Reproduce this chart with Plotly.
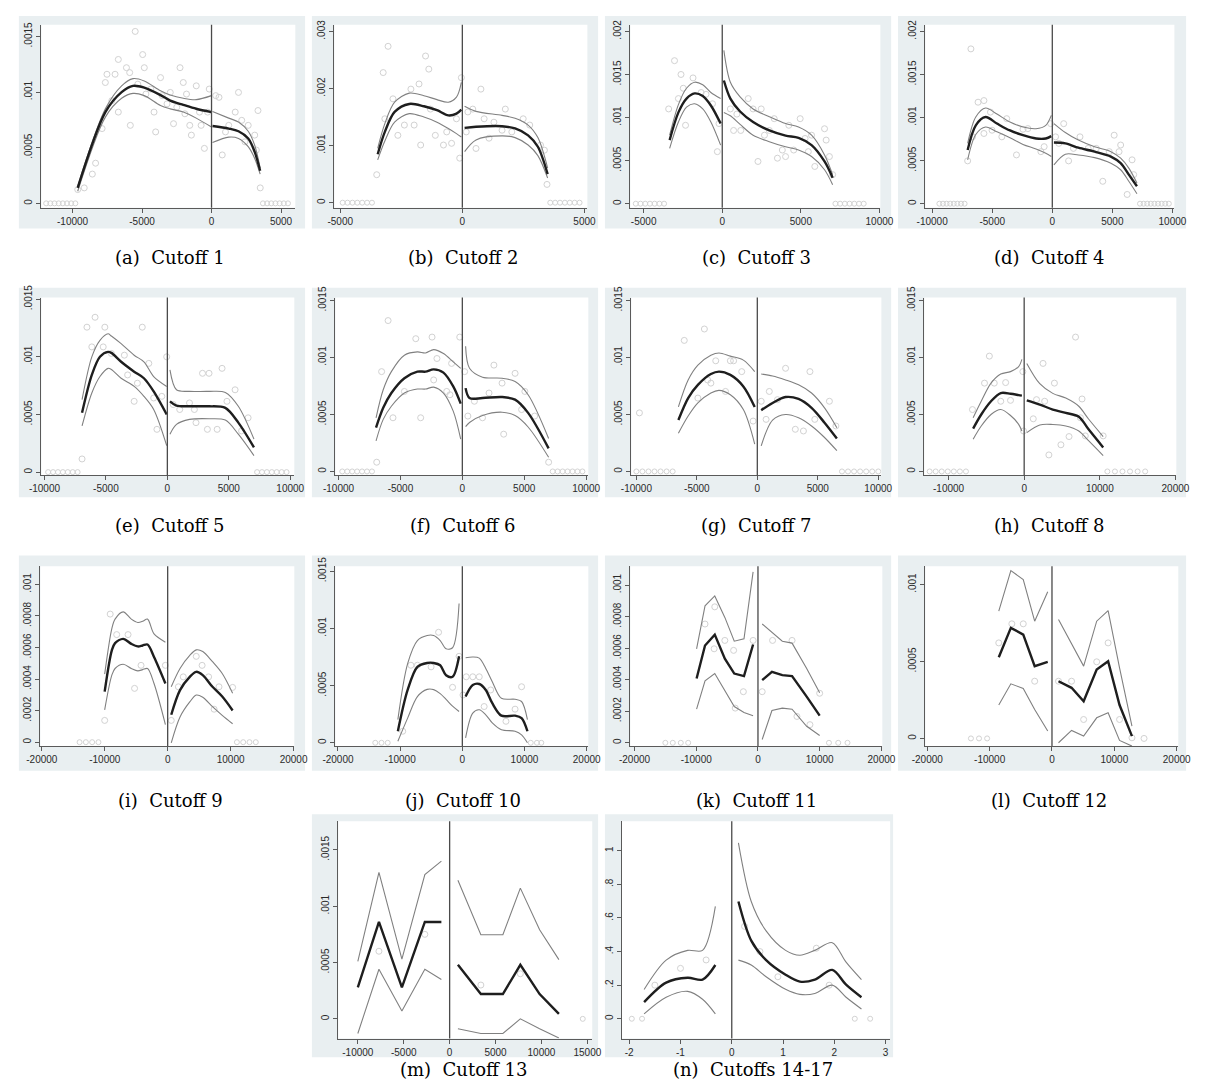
import plotly.graph_objects as go

W, H = 1205, 1086

# ---------------------------------------------------------------------------
# Binned density estimates and local-polynomial fits around each cutoff.
# y values are given in units of 1e-4 (panel n: plain units).
# *_SX/*_SY : bin means, *_ZL/*_ZR : empty bins (density 0)
# *_XL/*_FL/*_HL/*_LL : left of cutoff  (x, fit, upper CI, lower CI)
# *_XR/*_FR/*_HR/*_LR : right of cutoff
# ---------------------------------------------------------------------------

# (a) Cutoff 1
A_SX = [-9628, -9161, -8577, -8343, -7876, -7642, -7525, -7175, -6941, -6707, -6707, -6123, -5889, -5843,
        -5492, -5305, -4954, -4838, -4721, -4370, -4137, -4020, -3669, -3552, -3202, -2968, -2734, -2501,
        -2267, -2033, -1916, -1800, -1566, -1449, -1098, -865, -748, -514, -280, -164, 304, 538, 771, 1005,
        1239, 1706, 1940, 2173, 2407, 2641, 3108, 3342, 3225, 3506]
A_SY = [1.24, 1.39, 2.63, 3.61, 6.72, 10.86, 11.6, 9.23, 11.6, 8.2, 12.93, 12.19, 11.75, 7.01, 15.45, 10.71,
        13.37, 12.19, 9.82, 10.27, 8.2, 6.42, 11.3, 9.68, 8.94, 9.97, 7.16, 8.64, 12.19, 10.86, 8.05, 9.82,
        7.01, 6.13, 10.56, 8.2, 7.01, 4.94, 8.2, 10.27, 9.68, 9.53, 4.35, 6.42, 7.01, 8.2, 9.97, 7.46, 5.53,
        7.01, 6.13, 8.34, 4.79, 1.39]
A_ZL = [-11900, -11600, -11300, -11000, -10700, -10400, -10100, -9800]
A_ZR = [3700, 4000, 4300, 4600, 4900, 5200, 5500]
A_XL = [-9630, -7640, -6470, -5650, -4840, -3670, -2970, -2030, -1100, 0]
A_FL = [1.39, 8.2, 10.0, 10.56, 10.4, 9.73, 9.23, 8.85, 8.5, 8.2]
A_HL = [1.54, 8.49, 10.56, 11.21, 11.0, 10.12, 9.73, 9.44, 9.32, 9.68]
A_LL = [1.09, 7.75, 9.44, 9.88, 9.68, 8.79, 8.49, 8.2, 7.66, 6.86]
A_XR = [70, 1240, 1940, 2640, 3100, 3500]
A_FR = [6.95, 6.72, 6.48, 5.83, 4.65, 2.93]
A_HR = [8.26, 7.66, 7.31, 6.48, 5.24, 3.17]
A_LR = [5.47, 5.95, 5.83, 5.09, 4.05, 2.63]

# (b) Cutoff 2
B_SX = [-3506, -3240, -3173, -3040, -2840, -2640, -2373, -2106, -1973, -1773, -1706, -1506, -1373, -1306,
        -1106, -773, -640, -440, -240, -107, -40, 160, 227, 427, 560, 760, 893, 1093, 1293, 1626, 1760, 2026,
        2493, 2760, 3200, 3360, 3466]
B_SY = [4.9, 22.8, 14.7, 27.4, 18.2, 11.8, 13.6, 19.9, 13.6, 20.8, 10.1, 25.7, 23.4, 16.4, 11.8, 10.1, 12.4,
        10.4, 14.7, 7.8, 21.9, 12.4, 15.9, 16.4, 9.5, 19.9, 14.7, 11.3, 14.1, 12.7, 16.4, 12.4, 14.7, 13.6,
        10.1, 9.2, 3.2]
B_ZL = [-4900, -4700, -4500, -4300, -4100, -3900, -3700]
B_ZR = [3600, 3800, 4000, 4200, 4400, 4600, 4800]
B_XL = [-3466, -3173, -2773, -2173, -1573, -1040, -573, -240, -40]
B_FL = [8.48, 12.4, 15.9, 17.3, 16.9, 16.2, 15.3, 15.6, 16.3]
B_HL = [9.52, 13.85, 17.6, 19.2, 18.75, 18.06, 17.6, 18.5, 21.1]
B_LL = [7.5, 10.8, 14.1, 15.6, 15.0, 14.1, 13.0, 12.1, 11.5]
B_XR = [93, 560, 1626, 2160, 2693, 3093, 3493]
B_FR = [13.1, 13.3, 13.4, 13.0, 11.8, 9.8, 5.0]
B_HR = [16.9, 16.0, 15.3, 14.8, 13.6, 11.4, 6.06]
B_LR = [8.94, 11.0, 11.7, 11.4, 10.1, 8.25, 4.33]

# (c) Cutoff 3
C_SX = [-3409, -3037, -2624, -2479, -2789, -2335, -1859, -1343, -1033, -620, -310, -207, 517, 723, 930, 1178,
        1653, 1963, 2273, 2479, 2686, 2996, 3306, 3512, 3822, 4029, 4236, 4545, 4958, 5268, 5475, 5682, 5888,
        6508, 6611, 6818, 7024]
C_SY = [11.0, 16.6, 15.0, 13.4, 12.2, 9.1, 14.6, 12.9, 12.7, 11.6, 6.04, 9.3, 11.0, 8.5, 10.4, 8.5, 12.2, 11.0,
        4.9, 11.0, 7.95, 8.5, 9.87, 5.28, 6.23, 5.47, 9.1, 6.23, 9.87, 7.57, 6.04, 7.95, 4.32, 8.7, 7.38, 5.47,
        3.37]
C_ZL = [-5500, -5200, -4900, -4600, -4300, -4000, -3700]
C_ZR = [7200, 7500, 7800, 8100, 8400, 8700, 9000]
C_XL = [-3347, -2789, -2273, -1756, -1240, -723, -103]
C_FL = [7.38, 10.6, 12.2, 12.8, 12.5, 11.4, 9.3]
C_HL = [7.95, 11.5, 13.4, 14.1, 13.8, 12.9, 12.2]
C_LL = [6.42, 9.48, 11.2, 11.6, 11.0, 9.48, 6.8]
C_XR = [103, 517, 1136, 1963, 2996, 4029, 4855, 5682, 6508, 7024]
C_FR = [14.3, 12.2, 10.7, 9.48, 8.5, 7.9, 7.65, 6.8, 4.9, 3.0]
C_HR = [17.8, 14.1, 12.4, 11.0, 10.1, 9.3, 8.9, 7.95, 5.66, 3.37]
C_LR = [10.6, 10.2, 9.2, 7.95, 7.2, 6.6, 6.23, 5.47, 3.94, 2.2]

# (d) Cutoff 4
D_SX = [-7046, -6775, -6179, -5691, -5149, -5014, -5691, -4201, -3794, -2981, -2439, -2033, -949, -678, -136,
        271, 542, 949, 1355, 1762, 2304, 2981, 3659, 4201, 4743, 5149, 5556, 5691, 6233, 6640, 6775, -6640]
D_SY = [4.97, 17.97, 11.78, 11.97, 10.63, 8.53, 8.15, 7.76, 9.87, 5.66, 8.64, 8.72, 6.04, 6.62, 9.29, 7.76,
        7.0, 9.29, 4.97, 6.42, 7.76, 6.42, 6.42, 2.6, 6.04, 7.95, 6.04, 6.81, 1.07, 5.09, 3.37, 7.76]
D_ZL = [-9400, -9100, -8800, -8500, -8200, -7900, -7600, -7300]
D_ZR = [7300, 7600, 7900, 8200, 8500, 8800, 9100, 9400, 9700]
D_XL = [-7046, -6369, -5556, -4607, -3523, -2439, -1355, -542, -81]
D_FL = [6.23, 9.1, 10.06, 9.3, 8.5, 7.95, 7.57, 7.57, 7.84]
D_HL = [7.0, 10.06, 11.1, 10.4, 9.48, 8.9, 8.7, 9.1, 10.25]
D_LL = [5.09, 8.03, 8.9, 8.34, 7.65, 6.88, 6.35, 5.85, 5.47]
D_XR = [135, 1084, 2168, 3523, 4878, 5691, 6369, 7046]
D_FR = [7.1, 7.0, 6.5, 6.04, 5.47, 4.7, 3.37, 2.03]
D_HR = [9.3, 8.26, 7.38, 6.6, 6.04, 5.28, 4.13, 2.4]
D_LR = [4.51, 5.74, 5.66, 5.35, 4.7, 3.94, 2.6, 1.15]

# (e) Cutoff 5
E_SX = [-6940, -6543, -5881, -6146, -5219, -5086, -4556, -3497, -3232, -2702, -2437, -2040, -1510, -1113, -848,
        -450, -53, 477, 1006, 1801, 2199, 2331, 2861, 3391, 3258, 4053, 4450, 4848, 5510, 6040, 6570]
E_SY = [1.14, 12.57, 13.43, 10.86, 10.86, 12.57, 10.29, 10.14, 8.43, 6.14, 7.71, 12.57, 9.43, 6.43, 3.71, 6.57,
        10.0, 5.86, 5.43, 6.0, 5.43, 4.29, 8.57, 8.57, 3.71, 3.71, 9.0, 6.14, 7.14, 3.57, 4.71]
E_ZL = [-9700, -9300, -8900, -8500, -8100, -7700, -7300]
E_ZR = [7300, 7700, 8100, 8500, 8900, 9300, 9700]
E_XL = [-6940, -6146, -5483, -4821, -4556, -3762, -2702, -1907, -1113, -53]
E_FL = [5.14, 8.43, 10.0, 10.43, 10.34, 9.57, 8.71, 8.14, 7.0, 5.0]
E_HL = [6.29, 10.0, 11.43, 12.0, 11.8, 11.14, 10.14, 9.57, 8.29, 7.43]
E_LL = [4.0, 6.86, 8.29, 9.0, 8.9, 8.14, 7.43, 6.57, 5.43, 2.29]
E_XR = [212, 742, 1801, 3391, 4715, 5775, 7046]
E_FR = [6.14, 5.77, 5.71, 5.71, 5.57, 4.29, 2.14]
E_HR = [8.86, 7.14, 7.0, 7.0, 6.91, 5.71, 2.86]
E_LR = [3.29, 4.14, 4.57, 4.63, 4.51, 3.29, 1.43]

# (f) Cutoff 6
F_SX = [-6917, -6522, -5996, -5602, -3761, -3366, -2446, -2051, -1262, -999, -868, -210, 184, 447, 973, 1631,
        2156, 2551, 3209, 3340, 4261, 4787, 5050, 5839, 6970, -2314, -4681]
F_SY = [0.81, 8.76, 13.24, 4.71, 11.65, 4.71, 11.79, 9.91, 7.02, 6.73, 9.48, 11.79, 8.76, 4.86, 6.16, 4.71,
        6.88, 9.33, 7.75, 3.27, 8.61, 5.43, 7.02, 4.86, 0.81, 8.03, 7.02]
F_ZL = [-9700, -9300, -8900, -8500, -8100, -7700, -7300]
F_ZR = [7300, 7700, 8100, 8500, 8900, 9300, 9700]
F_XL = [-6970, -6391, -5733, -4681, -3629, -2972, -2314, -1525, -736, -131]
F_FL = [3.84, 5.58, 6.88, 8.18, 8.76, 8.76, 8.96, 8.67, 7.46, 5.95]
F_HL = [4.71, 7.17, 8.76, 10.2, 10.49, 10.4, 10.69, 10.35, 9.62, 9.05]
F_LL = [2.69, 4.57, 5.72, 6.88, 7.23, 7.23, 7.4, 6.88, 5.29, 2.83]
F_XR = [263, 579, 1631, 3209, 4261, 5313, 6970]
F_FR = [7.31, 6.44, 6.44, 6.53, 6.3, 5.14, 2.02]
F_HR = [10.98, 9.05, 8.27, 8.18, 7.89, 6.73, 2.89]
F_LR = [3.93, 4.3, 4.91, 5.2, 4.9, 3.9, 1.24]

# (g) Cutoff 7
G_SX = [-6041, -4377, -4109, -3437, -3840, -2631, -2229, -1960, -1289, -349, 322, 725, 993, 1665, 2336, 3142,
        3813, 4350, 4753, 5961, 6498, -9747, -4914]
G_SY = [11.5, 12.5, 8.03, 9.71, 7.75, 7.02, 9.71, 9.71, 8.76, 4.42, 6.16, 4.57, 7.02, 6.3, 9.05, 3.7, 3.55,
        8.76, 4.57, 6.16, 3.99, 5.14, 6.44]
G_ZL = [-10000, -9500, -9000, -8500, -8000, -7500, -7000]
G_ZR = [7000, 7500, 8000, 8500, 9000, 9500, 10000]
G_XL = [-6525, -5719, -4914, -3840, -3168, -2229, -1155, -215]
G_FL = [4.51, 6.44, 7.6, 8.55, 8.76, 8.47, 7.46, 5.66]
G_HL = [5.66, 8.03, 9.33, 10.2, 10.4, 10.12, 9.77, 8.76]
G_LL = [3.35, 4.86, 6.01, 6.88, 7.11, 6.73, 5.43, 2.4]
G_XR = [322, 1262, 2336, 3410, 4484, 5558, 6578]
G_FR = [5.38, 6.01, 6.53, 6.36, 5.58, 4.28, 2.89]
G_HR = [8.55, 8.38, 8.03, 7.6, 6.88, 5.58, 3.84]
G_LR = [2.25, 4.5, 5.0, 4.71, 3.99, 2.98, 1.82]

# (h) Cutoff 8
H_SX = [-6837, -5246, -4601, -3956, -3096, -2451, -1806, -172, -86, 1204, 1634, 2494, 2709, 3999, 3268, 4859,
        5934, 6794, 7439, 7654, 8084, 10449]
H_SY = [5.43, 7.75, 10.12, 7.75, 6.16, 7.8, 6.24, 8.76, 3.55, 4.62, 6.3, 9.48, 6.16, 7.75, 1.45, 2.34, 3.06,
        11.79, 4.71, 6.36, 3.12, 3.12]
H_ZL = [-12500, -11700, -10900, -10100, -9300, -8500, -7700]
H_ZR = [11000, 12000, 13000, 14000, 15000, 16000]
H_XL = [-6751, -5676, -4386, -3096, -1806, -731, -301]
H_FL = [3.76, 5.0, 6.16, 6.88, 6.82, 6.7, 6.65]
H_HL = [4.71, 6.16, 7.75, 8.55, 8.76, 9.19, 9.83]
H_LL = [2.83, 3.99, 5.0, 5.43, 4.91, 4.13, 3.55]
H_XR = [344, 2064, 3784, 5504, 7224, 8514, 10449]
H_FR = [6.24, 5.87, 5.43, 5.14, 4.8, 3.7, 2.11]
H_HR = [9.48, 7.7, 6.85, 6.44, 5.72, 4.6, 3.06]
H_LR = [3.41, 4.08, 4.12, 3.99, 3.55, 2.7, 1.39]

# (i) Cutoff 9
I_SX = [-10010, -9133, -8101, -6295, -5263, -4231, -361, 568, 1703, 2477, 4541, 5470, 6502, 8153, 10320, 7379]
I_SY = [1.38, 8.12, 6.82, 6.82, 3.41, 4.87, 4.87, 1.38, 3.51, 4.14, 5.44, 4.87, 4.14, 3.51, 3.47, 2.09]
I_ZL = [-14000, -13000, -12000, -11000]
I_ZR = [11000, 12000, 13000, 14000]
I_XL = [-10010, -8875, -8359, -7069, -5779, -4747, -3973, -3199, -2167, -361]
I_FL = [3.2, 5.82, 6.28, 6.55, 6.23, 6.07, 6.13, 6.19, 5.4, 3.72]
I_HL = [4.31, 7.2, 7.8, 8.26, 7.8, 7.59, 7.66, 7.8, 6.86, 6.34]
I_LL = [2.05, 4.25, 4.67, 4.94, 4.67, 4.52, 4.6, 4.67, 3.72, 1.11]
I_XR = [568, 1961, 3509, 4541, 5573, 7121, 8669, 10320]
I_FR = [1.74, 3.3, 4.14, 4.46, 4.25, 3.51, 2.89, 2.01]
I_HR = [3.51, 4.67, 5.5, 5.85, 5.75, 5.1, 4.35, 3.1]
I_LR = [-0.04, 1.6, 2.55, 2.99, 2.85, 2.25, 1.7, 1.17]

# (j) Cutoff 10
J_SX = [-9582, -8272, -7226, -5027, -3822, -1571, -524, 628, 1676, 2723, 3508, 4555, 7016, 8482, 9529, 105]
J_SY = [1.01, 6.78, 6.78, 6.64, 9.66, 4.85, 7.56, 5.77, 5.77, 5.77, 3.17, 4.62, 1.88, 2.94, 4.9, 4.18]
J_ZL = [-14000, -13000, -12000]
J_ZR = [11000, 12000, 12700]
J_XL = [-10367, -8796, -7226, -5655, -4608, -3560, -2618, -1571, -524]
J_FL = [1.01, 4.62, 6.64, 6.98, 6.98, 6.78, 5.91, 5.77, 7.56]
J_HL = [2.02, 6.92, 8.94, 9.38, 9.38, 8.94, 8.22, 8.31, 12.17]
J_LL = [0.14, 2.16, 4.04, 4.67, 4.65, 4.3, 3.8, 3.2, 2.74]
J_XR = [524, 1676, 2723, 3770, 4817, 6283, 8482, 9529, 10472]
J_FR = [4.04, 5.05, 5.14, 4.62, 3.46, 2.37, 2.37, 2.16, 1.01]
J_HR = [7.44, 7.5, 7.4, 6.5, 5.34, 3.89, 3.81, 3.61, 2.02]
J_LR = [0.43, 2.6, 2.89, 2.45, 1.75, 1.15, 1.01, 0.7, 0.0]

# (k) Cutoff 11
K_SX = [-8574, -6996, -5365, -3945, -3682, -2367, -789, 684, 2367, 5523, 6312, 8416, 9994, -7101]
K_SY = [7.53, 8.62, 6.49, 5.86, 2.2, 3.24, 6.49, 3.24, 6.49, 6.49, 1.67, 1.15, 3.14, 5.96]
K_ZL = [-15000, -13800, -12500, -11300]
K_ZR = [11500, 13000, 14500]
K_XL = [-9941, -8574, -6996, -5365, -3840, -2262, -789]
K_FL = [4.08, 6.17, 6.86, 5.33, 4.39, 4.23, 6.23]
K_HL = [5.96, 8.68, 9.31, 7.95, 6.44, 6.59, 10.84]
K_LL = [2.13, 3.93, 4.39, 3.35, 2.3, 1.92, 1.72]
K_XR = [684, 2262, 3945, 5523, 7890, 9994]
K_FR = [3.97, 4.5, 4.29, 4.23, 2.93, 1.72]
K_HR = [7.53, 7.01, 6.44, 6.32, 4.71, 3.18]
K_LR = [0.21, 2.05, 2.2, 2.13, 1.05, 0.46]

# (l) Cutoff 12
L_SX = [-8535, -6440, -4608, -2775, 1047, 3142, 5079, 7173, 9006, 10839, 12828, 14765]
L_SY = [6.21, 7.45, 7.45, 3.72, 3.72, 3.72, 1.23, 4.98, 6.21, 1.23, 0.04, 0.0]
L_ZL = [-13000, -11700, -10400]
L_ZR = []
L_XL = [-8535, -6597, -4608, -2775, -681]
L_FL = [5.28, 7.19, 6.75, 4.7, 4.98]
L_HL = [8.27, 10.91, 10.33, 7.62, 9.53]
L_LL = [2.17, 3.55, 3.25, 1.88, 0.48]
L_XR = [1047, 3142, 5079, 7173, 9006, 10839, 12828]
L_FR = [3.72, 3.29, 2.42, 4.48, 5.02, 2.17, 0.15]
L_HR = [7.73, 6.11, 4.7, 7.62, 8.31, 4.59, 0.8]
L_LR = [-0.28, 0.52, 0.15, 1.34, 1.67, -0.13, -0.5]

# (m) Cutoff 13
M_SX = [-7700, -2700, 3400, 7700]
M_SY = [6.0, 7.5, 3.0, 4.0]
M_ZL = []
M_ZR = [14500]
M_XL = [-10000, -7700, -5200, -2700, -900]
M_FL = [2.8, 8.6, 2.8, 8.6, 8.6]
M_HL = [5.1, 13.0, 5.3, 12.8, 14.0]
M_LL = [-1.3, 4.4, 0.7, 4.4, 3.5]
M_XR = [900, 3400, 5800, 7700, 9800, 11900]
M_FR = [4.8, 2.2, 2.2, 4.8, 2.2, 0.44]
M_HR = [12.3, 7.46, 7.46, 11.6, 7.9, 5.26]
M_LR = [-0.88, -1.3, -1.3, 0.0, -0.88, -1.7]

# (n) Cutoffs 14-17 (normalised running variable)
N_SX = [-1.5, -1.0, -0.5, 0.25, 0.55, 0.9, 1.65, 1.9]
N_SY = [0.2, 0.3, 0.35, 0.55, 0.4, 0.25, 0.42, 0.2]
N_ZL = [-1.95, -1.75]
N_ZR = [2.4, 2.7]
N_XL = [-1.71, -1.28, -0.86, -0.57, -0.32]
N_FL = [0.099, 0.215, 0.244, 0.233, 0.32]
N_HL = [0.174, 0.349, 0.407, 0.407, 0.669]
N_LL = [0.029, 0.128, 0.163, 0.116, 0.029]
N_XR = [0.13, 0.38, 0.67, 1.05, 1.33, 1.62, 1.96, 2.23, 2.53]
N_FR = [0.698, 0.465, 0.349, 0.262, 0.221, 0.233, 0.291, 0.203, 0.128]
N_HR = [1.047, 0.698, 0.523, 0.407, 0.378, 0.407, 0.453, 0.337, 0.233]
N_LR = [0.349, 0.32, 0.25, 0.175, 0.145, 0.15, 0.2, 0.128, 0.058]

# Tick sets
XT_A = [-10000, -5000, 0, 5000]
XT_B = [-5000, 0, 5000]
XT_C = [-5000, 0, 5000, 10000]
XT_10 = [-10000, -5000, 0, 5000, 10000]
XT_H = [-10000, 0, 10000, 20000]
XT_20 = [-20000, -10000, 0, 10000, 20000]
XT_M = [-10000, -5000, 0, 5000, 10000, 15000]
XT_N = [-2, -1, 0, 1, 2, 3]

YT_15 = ([0, 5e-4, 1e-3, 1.5e-3], ["0", ".0005", ".001", ".0015"])
YT_3 = ([0, 1e-3, 2e-3, 3e-3], ["0", ".001", ".002", ".003"])
YT_2 = ([0, 5e-4, 1e-3, 1.5e-3, 2e-3], ["0", ".0005", ".001", ".0015", ".002"])
YT_1 = ([0, 2e-4, 4e-4, 6e-4, 8e-4, 1e-3], ["0", ".0002", ".0004", ".0006", ".0008", ".001"])
YT_L = ([0, 5e-4, 1e-3], ["0", ".0005", ".001"])
YT_N = ([0, 0.2, 0.4, 0.6, 0.8, 1.0], ["0", ".2", ".4", ".6", ".8", "1"])


def series(prefix):
    g = globals()
    return {k: g[f"{prefix}_{k}"] for k in
            ["SX", "SY", "ZL", "ZR", "XL", "FL", "HL", "LL", "XR", "FR", "HR", "LR"]}


# Layout of each panel, in pixels: outer box, plot area, axis ranges, caption centre
PANELS = [
    dict(p="A", cap="(a)  Cutoff 1", box=(5, 3, 298, 218), area=(28, 12, 288, 197),
         xr=(-12246, 6029), yr=(-0.385e-4, 16.04e-4), xt=XT_A, yt=YT_15, cc=(160, 247), shape="spline"),
    dict(p="B", cap="(b)  Cutoff 2", box=(305, 3, 598, 218), area=(328, 12, 587, 197),
         xr=(-5239, 5119), yr=(-0.87e-4, 31.16e-4), xt=XT_B, yt=YT_3, cc=(460, 247), shape="spline"),
    dict(p="C", cap="(c)  Cutoff 3", box=(605, 3, 898, 218), area=(631, 12, 887, 197),
         xr=(-5847, 10061), yr=(-0.46e-4, 20.76e-4), xt=XT_C, yt=YT_2, cc=(760, 247), shape="spline"),
    dict(p="D", cap="(d)  Cutoff 4", box=(905, 3, 1200, 218), area=(933, 12, 1188, 197),
         xr=(-10569, 10163), yr=(-0.46e-4, 20.76e-4), xt=XT_10, yt=YT_2, cc=(1060, 247), shape="spline"),
    dict(p="E", cap="(e)  Cutoff 5", box=(5, 278, 298, 490), area=(28, 288, 287, 468),
         xr=(-10252, 10331), yr=(-0.286e-4, 15.14e-4), xt=XT_10, yt=YT_15, cc=(160, 519), shape="spline"),
    dict(p="F", cap="(f)  Cutoff 6", box=(305, 278, 598, 490), area=(329, 288, 588, 468),
         xr=(-10257, 10178), yr=(-0.347e-4, 15.26e-4), xt=XT_10, yt=YT_15, cc=(460, 519), shape="spline"),
    dict(p="G", cap="(g)  Cutoff 7", box=(605, 278, 898, 490), area=(632, 288, 888, 468),
         xr=(-10418, 10257), yr=(-0.347e-4, 15.26e-4), xt=XT_10, yt=YT_15, cc=(760, 519), shape="spline"),
    dict(p="H", cap="(h)  Cutoff 8", box=(905, 278, 1200, 490), area=(932, 288, 1190, 468),
         xr=(-13201, 20124), yr=(-0.347e-4, 15.26e-4), xt=XT_H, yt=YT_15, cc=(1060, 519), shape="spline"),
    dict(p="I", cap="(i)  Cutoff 9", box=(5, 549, 298, 767), area=(27, 560, 287, 742),
         xr=(-20227, 20124), yr=(-0.25e-4, 11.15e-4), xt=XT_20, yt=YT_1, cc=(160, 797), shape="spline"),
    dict(p="J", cap="(j)  Cutoff 10", box=(305, 549, 598, 767), area=(329, 560, 588, 742),
         xr=(-20420, 20263), yr=(-0.29e-4, 15.43e-4), xt=XT_20, yt=YT_15, cc=(460, 797), shape="spline"),
    dict(p="K", cap="(k)  Cutoff 11", box=(605, 549, 898, 767), area=(631, 560, 889, 742),
         xr=(-20672, 20146), yr=(-0.21e-4, 11.19e-4), xt=XT_20, yt=YT_1, cc=(760, 797), shape="linear"),
    dict(p="L", cap="(l)  Cutoff 12", box=(905, 549, 1200, 767), area=(933, 560, 1192, 742),
         xr=(-20316, 20263), yr=(-0.5e-4, 11.19e-4), xt=XT_20, yt=YT_L, cc=(1060, 797), shape="linear"),
    dict(p="M", cap="(m)  Cutoff 13", box=(305, 811, 598, 1057), area=(332, 818, 592, 1038),
         xr=(-12128, 15532), yr=(-1.75e-4, 17.54e-4), xt=XT_M, yt=YT_15, cc=(460, 1069), shape="linear"),
    dict(p="N", cap="(n)  Cutoffs 14-17", box=(605, 811, 900, 1057), area=(622, 818, 897, 1038),
         xr=(-2.15, 3.09), yr=(-0.118, 1.176), xt=XT_N, yt=YT_N, cc=(757, 1069), shape="spline", unit=1.0),
]

GRAPH_BG = "#e9eff1"
POINT_COLOR = "#d2d2d2"
CI_COLOR = "#808080"
FIT_COLOR = "#1e1e1e"
AXIS_COLOR = "#5a5a5a"
TICK_FONT = dict(family="Liberation Sans, Arial, sans-serif", size=10, color="#2a2a2a")

fig = go.Figure()
shapes, annotations = [], []


def fx(px):
    return px / W


def fy(py):
    return 1 - py / H


for i, cfg in enumerate(PANELS, start=1):
    d = series(cfg["p"])
    unit = cfg.get("unit", 1e-4)
    sfx = "" if i == 1 else str(i)
    xa, ya = f"x{sfx}", f"y{sfx}"

    def scale(vals):
        return [v * unit for v in vals]

    # panel background and white plot region
    bx0, by0, bx1, by1 = cfg["box"]
    ax0, ay0, ax1, ay1 = cfg["area"]
    shapes.append(dict(type="rect", xref="paper", yref="paper", x0=fx(bx0), x1=fx(bx1),
                       y0=fy(by1), y1=fy(by0), fillcolor=GRAPH_BG, line=dict(width=0), layer="below"))
    shapes.append(dict(type="rect", xref="paper", yref="paper", x0=fx(ax0), x1=fx(ax1),
                       y0=fy(ay1), y1=fy(ay0), fillcolor="white", line=dict(width=0), layer="below"))

    # binned observations
    fig.add_trace(go.Scatter(x=d["SX"], y=scale(d["SY"]), mode="markers", xaxis=xa, yaxis=ya,
                             marker=dict(symbol="circle-open", size=6, color=POINT_COLOR,
                                         line=dict(width=1)), hoverinfo="skip", showlegend=False))
    zx = d["ZL"] + d["ZR"]
    if zx:
        fig.add_trace(go.Scatter(x=zx, y=[0.0] * len(zx), mode="markers", xaxis=xa, yaxis=ya,
                                 marker=dict(symbol="circle-open", size=5, color=POINT_COLOR,
                                             line=dict(width=1)), hoverinfo="skip", showlegend=False))

    # confidence bands and fitted densities on both sides of the cutoff
    line_kw = dict(shape=cfg["shape"])
    if cfg["shape"] == "spline":
        line_kw["smoothing"] = 0.9
    for xs, key in ((d["XL"], "HL"), (d["XL"], "LL"), (d["XR"], "HR"), (d["XR"], "LR")):
        fig.add_trace(go.Scatter(x=xs, y=scale(d[key]), mode="lines", xaxis=xa, yaxis=ya,
                                 line=dict(color=CI_COLOR, width=1.1, **line_kw),
                                 hoverinfo="skip", showlegend=False))
    for xs, key in ((d["XL"], "FL"), (d["XR"], "FR")):
        fig.add_trace(go.Scatter(x=xs, y=scale(d[key]), mode="lines", xaxis=xa, yaxis=ya,
                                 line=dict(color=FIT_COLOR, width=2.4, **line_kw),
                                 hoverinfo="skip", showlegend=False))

    # cutoff marker
    shapes.append(dict(type="line", xref=xa, yref=f"{ya} domain", x0=0, x1=0, y0=0, y1=1,
                       line=dict(color="#4a4a4a", width=1.3)))

    axis_common = dict(showgrid=False, zeroline=False, showline=True, linecolor=AXIS_COLOR,
                       linewidth=1, ticks="outside", ticklen=4, tickcolor=AXIS_COLOR, tickwidth=1,
                       tickfont=TICK_FONT, fixedrange=True)
    fig.update_layout(**{
        f"xaxis{sfx}": dict(domain=[fx(ax0), fx(ax1)], range=list(cfg["xr"]), anchor=ya,
                            tickmode="array", tickvals=cfg["xt"], ticktext=[str(v) for v in cfg["xt"]],
                            **axis_common),
        f"yaxis{sfx}": dict(domain=[fy(ay1), fy(ay0)], range=list(cfg["yr"]), anchor=xa,
                            tickmode="array", tickvals=cfg["yt"][0], ticktext=cfg["yt"][1],
                            tickangle=-90, **axis_common),
    })

    annotations.append(dict(text=cfg["cap"], xref="paper", yref="paper", x=fx(cfg["cc"][0]),
                            y=fy(cfg["cc"][1]), xanchor="center", yanchor="middle", showarrow=False,
                            font=dict(family="DejaVu Serif, serif", size=18, color="black")))

fig.update_layout(width=W, height=H, autosize=False, margin=dict(l=0, r=0, t=0, b=0),
                  paper_bgcolor="white", plot_bgcolor="rgba(0,0,0,0)",
                  shapes=shapes, annotations=annotations, showlegend=False)

fig.write_html("out.html")
